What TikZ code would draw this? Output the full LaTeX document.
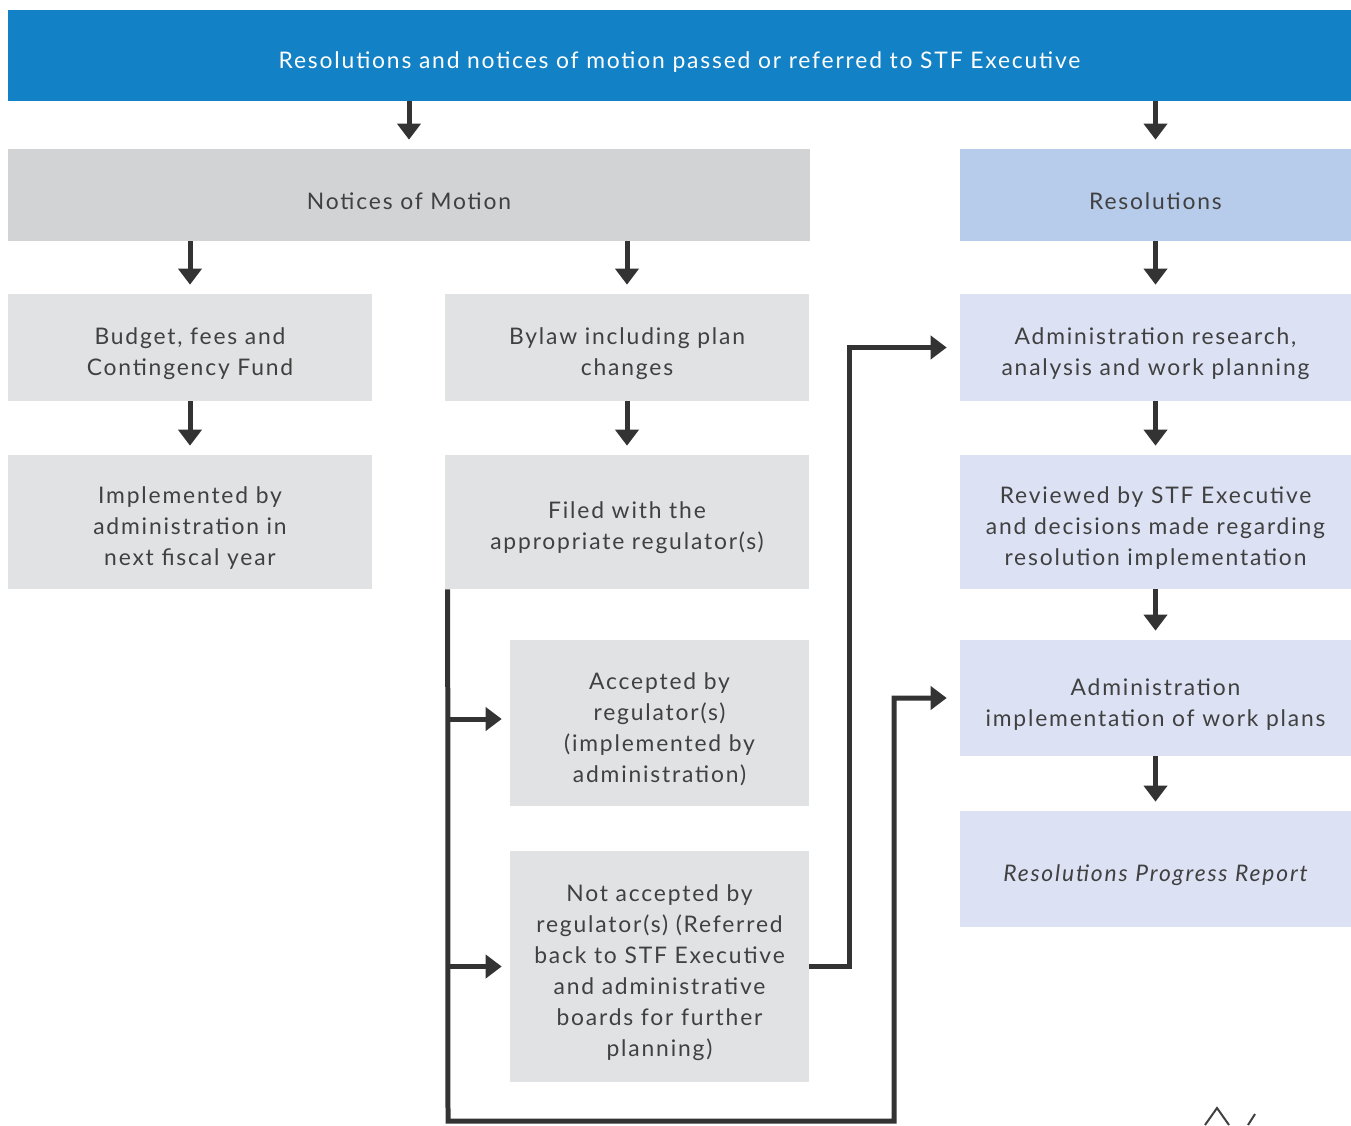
\documentclass[tikz,border=0pt]{standalone}
\usepackage{fontspec}
\setmainfont{Lato}[LetterSpace=8]
\usetikzlibrary{arrows.meta}
\definecolor{topblue}{HTML}{1281C5}
\definecolor{motiongrey}{HTML}{D1D3D5}
\definecolor{lightgrey}{HTML}{E1E2E4}
\definecolor{resblue}{HTML}{B7CCEA}
\definecolor{lightblue}{HTML}{DCE2F4}
\definecolor{inkgrey}{HTML}{404040}
\definecolor{arrowgrey}{HTML}{333333}
\tikzset{
  box/.style={fill=lightgrey, text=inkgrey, align=center, inner sep=0pt,
    text width=5.9cm, font=\fontsize{13}{17.6}\selectfont,
    execute at begin node={\rule{0pt}{0.58cm}}},
  resbox/.style={box, fill=lightblue},
  arr/.style={draw=arrowgrey, line width=0.1cm,
    -{Triangle[length=0.32cm,width=0.46cm]}, shorten >=0.18cm},
  link/.style={arr, shorten >=0.26cm}
}
\begin{document}
\begin{tikzpicture}[x=0.02cm,y=-0.02cm]
			\useasboundingbox (0,0) rectangle (1351,1125);
			% top bar
			\node[box, fill=topblue, text=white, text width=20cm, minimum width=26.86cm, minimum height=1.82cm] (top) at (679.5,55.5)
				{Resolutions and notices of motion passed or referred to STF Executive};
			% notices of motion column
			\node[box, fill=motiongrey, minimum width=16.04cm, minimum height=1.84cm] (notices) at (409,195) {Notices of Motion};
			\node[box, minimum width=7.28cm, minimum height=2.14cm] (budget) at (190,347.5) {Budget, fees and\\Contingency Fund};
			\node[box, minimum width=7.28cm, minimum height=2.14cm] (bylaw) at (627,347.5) {Bylaw including plan\\changes};
			\node[box, minimum width=7.28cm, minimum height=2.68cm] (implemented) at (190,522) {Implemented by\\administration in\\next fiscal year};
			\node[box, minimum width=7.28cm, minimum height=2.68cm] (filed) at (627,522) {Filed with the\\appropriate regulator(s)};
			\node[box, minimum width=5.98cm, minimum height=3.32cm] (accepted) at (659.5,723) {Accepted by\\regulator(s)\\(implemented by\\administration)};
			\node[box, minimum width=5.98cm, minimum height=4.62cm] (notaccepted) at (659.5,966.5) {Not accepted by\\regulator(s) (Referred\\back to STF Executive\\and administrative\\boards for further\\planning)};
			% resolutions column
			\node[box, fill=resblue, minimum width=7.82cm, minimum height=1.84cm] (resolutions) at (1155.5,195) {Resolutions};
			\node[resbox, text width=7.5cm, minimum width=7.82cm, minimum height=2.14cm] (research) at (1155.5,347.5) {Administration research,\\analysis and work planning};
			\node[resbox, text width=7.5cm, minimum width=7.82cm, minimum height=2.68cm] (reviewed) at (1155.5,522) {Reviewed by STF Executive\\and decisions made regarding\\resolution implementation};
			\node[resbox, text width=7.5cm, minimum width=7.82cm, minimum height=2.32cm] (implementation) at (1155.5,698) {Administration\\implementation of work plans};
			\node[resbox, text width=7.5cm, minimum width=7.82cm, minimum height=2.32cm] (report) at (1155.5,869) {\itshape Resolutions Progress Report};
			% straight arrows
			\draw[arr] (top.south -| notices.north) -- (notices.north);
			\draw[arr] (top.south -| resolutions.north) -- (resolutions.north);
			\draw[arr] (notices.south -| budget.north) -- (budget.north);
			\draw[arr] (notices.south -| bylaw.north) -- (bylaw.north);
			\draw[arr] (resolutions) -- (research);
			\draw[arr] (budget) -- (implemented);
			\draw[arr] (bylaw) -- (filed);
			\draw[arr] (research) -- (reviewed);
			\draw[arr] (reviewed) -- (implementation);
			\draw[arr] (implementation) -- (report);
			% elbow connectors
			\coordinate (trunk) at ([xshift=0.06cm]filed.south west);
			\coordinate (bottom) at (448,1121);
			\coordinate (jogleft) at (849,0);
			\coordinate (jogright) at (894,0);
			\draw[link] (trunk) -- (bottom) -| (jogright |- implementation.west) -- (implementation.west);
			\draw[arr, shorten >=0.16cm] ([yshift=0.08cm]trunk |- accepted.west) -- ([yshift=0.08cm]accepted.west);
			\draw[arr, shorten >=0.16cm] (trunk |- notaccepted.west) -- (notaccepted.west);
			\draw[link] (notaccepted.east) -| (jogleft |- research.west) -- (research.west);
			% cut-off mark in the corner
			\draw[inkgrey, line width=0.04cm] (1205,1125) -- (1217,1108) -- (1229,1125) (1248,1125) -- (1255,1114);
		\end{tikzpicture}
\end{document}
